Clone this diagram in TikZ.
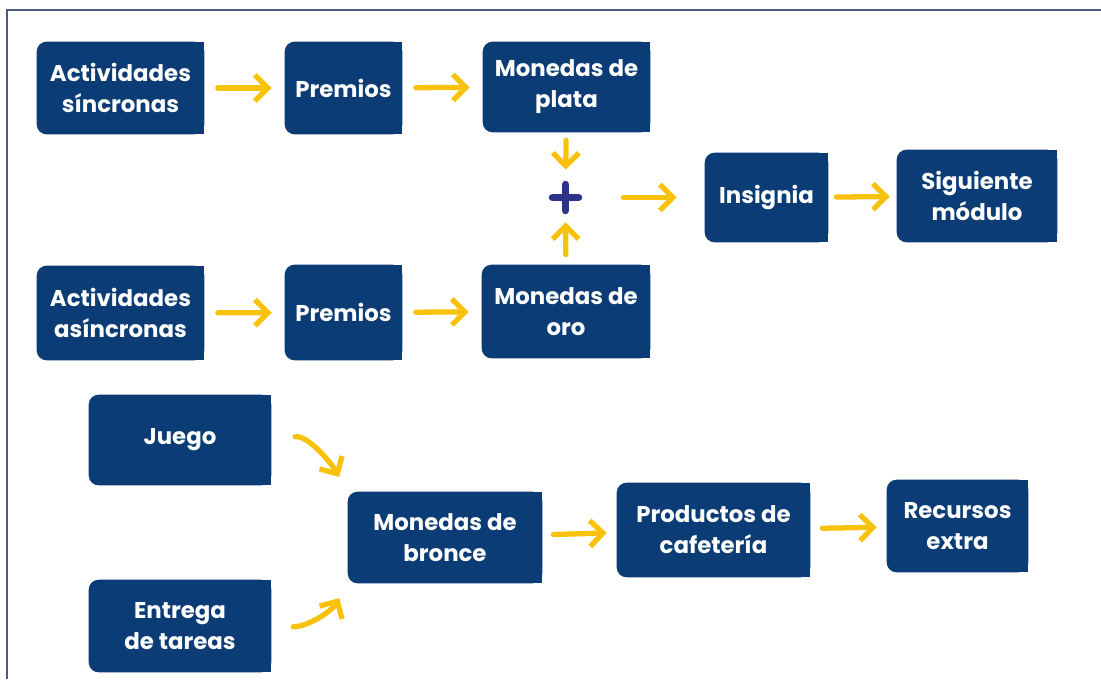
\documentclass[tikz,border=0pt]{standalone}
\usepackage{xcolor}
\usepackage{fontspec}
\setmainfont{Poppins}
\usetikzlibrary{arrows.meta,backgrounds}

\definecolor{navy}{HTML}{0B3C75}
\definecolor{gold}{HTML}{F9C20A}
\definecolor{plusblue}{HTML}{2C3388}
\definecolor{framegray}{HTML}{4A5F80}

\tikzset{
  box/.style={text=white,align=center,inner sep=0pt,minimum height=1.84cm,
    font=\fontsize{13}{17.6}\selectfont\bfseries},
  flow/.style={gold,line width=3pt,line cap=round,line join=round,
    -{Straight Barb[length=0.26cm,width=0.52cm]},shorten <=0.27cm,shorten >=0.26cm},
}

\begin{document}
\begin{tikzpicture}[x=0.02cm,y=-0.02cm]
    %frame
    \useasboundingbox (0,0) rectangle (1101,679);
    \draw[framegray,line width=1.3pt] (7,679) -- (7,10) -- (1101,10);

    \node[box,minimum width=3.34cm] (sinc) at (120.5,88) {Actividades\\síncronas};
    \node[box,minimum width=2.34cm] (premA) at (343.5,88) {Premios};
    \node[box,minimum width=3.34cm,minimum height=1.8cm] (plata) at (566.5,87) {Monedas de\\plata};
    \node[box,minimum width=3.34cm,minimum height=1.88cm] (asinc) at (120.5,313) {Actividades\\asíncronas};
    \node[box,minimum width=2.34cm,minimum height=1.9cm] (premB) at (343.5,312.5) {Premios};
    \node[box,minimum width=3.36cm,minimum height=1.86cm] (oro) at (566,311.5) {Monedas de\\oro};
    \node[minimum size=0.5cm,inner sep=0pt] (plus) at (565.5,197.5) {};
    \node[box,minimum width=2.46cm,minimum height=1.78cm] (insignia) at (766.5,197.5) {Insignia};
    \node[box,minimum width=3.2cm] (siguiente) at (977,196) {Siguiente\\módulo};

    \node[box,minimum width=3.64cm,minimum height=1.8cm] (juego) at (180,440) {Juego};
    \node[box,minimum width=3.64cm] (entrega) at (180,626) {Entrega\\de tareas};
    \node[box,minimum width=3.88cm,minimum height=1.82cm] (bronce) at (445,537.5) {Monedas de\\bronce};
    \node[box,minimum width=3.86cm,minimum height=1.88cm] (productos) at (713.5,530) {Productos de\\cafetería};
    \node[box,minimum width=2.82cm] (recursos) at (957.5,526) {Recursos\\extra};

    %boxes: rounded on the left only
    \begin{scope}[on background layer]
    \foreach \n in {sinc,premA,plata,asinc,premB,oro,insignia,siguiente,juego,entrega,bronce,productos,recursos}{
      \fill[navy,rounded corners=0.2cm] (\n.north west) rectangle (\n.south east);
      \fill[navy] (\n.north) rectangle (\n.south east);
    }
    \end{scope}

    \draw[plusblue,line width=4.5pt,line cap=round] (plus.north) -- (plus.south) (plus.west) -- (plus.east);

    \draw[flow] (sinc) -- (premA);
    \draw[flow] (premA) -- (plata);
    \draw[flow] (asinc) -- (premB);
    \draw[flow] (premB) -- (oro);
    \draw[flow,shorten <=0.16cm,shorten >=0.3cm] (plata) -- (plus);
    \draw[flow,shorten <=0.2cm,shorten >=0.24cm] (oro) -- (plus);
    \draw[flow,shorten <=0.9cm,shorten >=0.56cm] (plus) -- (insignia);
    \draw[flow,shorten <=0.16cm,shorten >=0.14cm] (insignia) -- (siguiente);

    \draw[flow,shorten <=0.48cm,shorten >=0.34cm] (juego.east) to[out=8,in=120] (bronce.north west);
    \draw[flow,shorten <=0.44cm,shorten >=0.34cm] (entrega.east) to[out=-2,in=-120] (bronce.south west);
    \draw[flow,shorten <=0.22cm,shorten >=0.2cm] (bronce) -- (productos);
    \draw[flow,shorten <=0.24cm,shorten >=0.2cm] (productos) -- (recursos);
\end{tikzpicture}
\end{document}
